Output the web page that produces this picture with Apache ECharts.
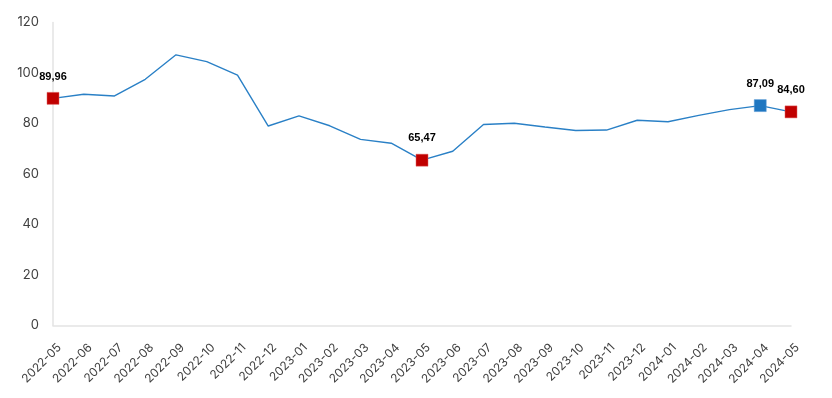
<!DOCTYPE html>
<html><head><meta charset="utf-8">
<script src="https://cdn.jsdelivr.net/npm/echarts@6/dist/echarts.min.js"></script>
<style>html,body{margin:0;padding:0;background:#fff}#c{width:832px;height:398px}</style>
</head><body><div id="c"></div>
<script>
const categories = ["2022-05","2022-06","2022-07","2022-08","2022-09","2022-10","2022-11","2022-12","2023-01","2023-02","2023-03","2023-04","2023-05","2023-06","2023-07","2023-08","2023-09","2023-10","2023-11","2023-12","2024-01","2024-02","2024-03","2024-04","2024-05"];
const values = [89.96,91.6,90.9,97.5,107.2,104.5,99.2,79.0,83.0,79.1,73.7,72.2,65.47,69.0,79.6,80.1,78.6,77.2,77.4,81.3,80.7,83.2,85.5,87.09,84.60];
const redPoints = [0,12,24];
const bluePoints = [23];
const yTicks = {min:0, max:120, interval:20};

const data = values.map((v,i)=>{
  const red = redPoints.includes(i), blue = bluePoints.includes(i);
  if(!red && !blue) return {value:v};
  return {
    value:v, symbol:'rect', symbolSize:12,
    itemStyle:{color: red ? '#c00000' : '#1f77c1', borderColor: red ? '#e06060' : '#5a9ad6', borderWidth:0.5},
    label:{show:true}
  };
});

const chart = echarts.init(document.getElementById('c'), null, {renderer:'canvas'});
chart.setOption({
  animation:false,
  backgroundColor:'#fff',
  grid:{left:53, right:41, top:22.5, bottom:72.5, containLabel:false},
  xAxis:{
    type:'category', data:categories, boundaryGap:false,
    axisLine:{lineStyle:{color:'#e3e3e3', width:1.5}},
    axisTick:{show:false},
    axisLabel:{rotate:45, interval:0, color:'#404040', fontSize:12, fontFamily:'Inter, Roboto, sans-serif', margin:18, verticalAlign:'top', padding:[0,-3,0,0]}
  },
  yAxis:{
    type:'value', min:yTicks.min, max:yTicks.max, interval:yTicks.interval,
    axisLine:{show:true, lineStyle:{color:'#e3e3e3', width:1.5}},
    axisTick:{show:false},
    splitLine:{show:false},
    axisLabel:{color:'#404040', fontSize:13, fontFamily:'Inter, Roboto, sans-serif', margin:14}
  },
  series:[{
    type:'line', data:data, symbol:'none',
    lineStyle:{color:'#2a80c6', width:1.4},
    itemStyle:{color:'#2a80c6'},
    label:{show:false, position:'top', distance:10, color:'#000', fontWeight:'bold', fontSize:11, fontFamily:'Liberation Sans, Arial, sans-serif',
      formatter:p=>p.value.toFixed(2).replace('.',',')}
  }]
});
</script></body></html>
